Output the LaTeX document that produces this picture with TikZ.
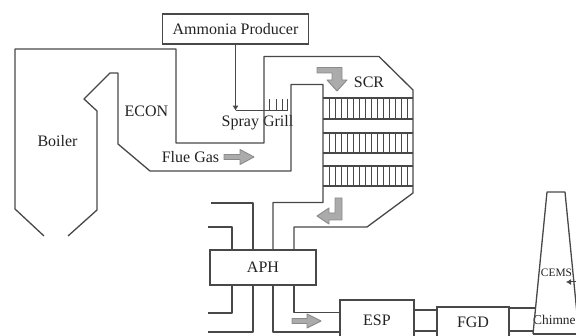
\documentclass[tikz,border=0pt]{standalone}
\usepackage{fontspec}
\setmainfont{Liberation Serif}
\usepackage{xcolor}
\usetikzlibrary{arrows.meta, positioning}
\definecolor{DuctGrey}{HTML}{484848}
\definecolor{FlowGrey}{HTML}{ABABAB}
\definecolor{FlowEdge}{HTML}{8A8A8A}
\definecolor{TextGrey}{HTML}{222222}
\tikzset{
  duct/.style={draw=DuctGrey, line width=1.3pt, line join=round},
  unitbox/.style={draw=DuctGrey, line width=1.3pt, outer sep=0pt, inner sep=0pt, text=TextGrey, font=\fontsize{16}{18}\selectfont},
  plainlabel/.style={text=TextGrey, inner sep=0pt, font=\fontsize{16}{18}\selectfont},
  flow/.style={draw=FlowEdge, fill=FlowGrey, line width=0.9pt, line join=round}
}
\begin{document}
\begin{tikzpicture}[x=1pt, y=-1pt]
        \clip (0,0) rectangle (576,336);

        % Units
        \node[unitbox, minimum width=146pt, minimum height=30pt] (ammonia) at (235.5,29) {Ammonia Producer};
        \node[unitbox, minimum width=106pt, minimum height=35pt] (aph) at (263,267.5) {APH};
        \node[unitbox, minimum width=74pt, minimum height=40pt] (esp) at (377,320) {ESP};
        \node[unitbox, minimum width=72pt, minimum height=30pt, right=23pt of esp, yshift=-2pt] (fgd) {FGD};

        % Labels
        \node[plainlabel] (boiler) at (57.5,141) {Boiler};
        \node[plainlabel] (econ) at (146.5,111) {ECON};
        \node[plainlabel] (spray) at (257.5,123) {Spray Grill};
        \node[plainlabel] (flue) at (190.5,157) {Flue Gas};
        \node[plainlabel] (scr) at (369,82) {SCR};
        \node[plainlabel, anchor=west, font=\fontsize{13.4}{15}\selectfont] (chimney) at (533,320) {Chimne};
        \node[plainlabel, font=\fontsize{11.4}{13}\selectfont] (cems) at (556.5,273) {CEMS};

        % Boiler and flue walls
        \draw[duct] (44,236) -- (15,209) -- (15,49) -- (176,49) -- (176,143) -- (264,143) -- (264,56.5)
            -- (379,56.5) -- (413,90) -- (413,193) -- (367,227) -- (294,227) -- (aph.north -| 294,0);
        \draw[duct] (68,236) -- (97,210) -- (97,111) -- (84,99) -- (110,73) -- (118,73) -- (118,144)
            -- (150,171) -- (291,171) -- (291,84.5) -- (323,84.5) -- (323,202.5) -- (273,202.5) -- (aph.north -| 273,0);

        % Catalyst layers
        \foreach \ytop/\ybot in {98/119, 133/153, 166/186} {
            \draw[duct] (323,\ytop) -- (413,\ytop);
            \draw[duct] (323,\ybot) -- (413,\ybot);
            \foreach \k in {1,...,14}
                \draw[duct, line width=1pt] (323+\k*6,\ytop) -- (323+\k*6,\ybot);
        }

        % Ammonia feed and spray grill
        \coordinate (sprayjoint) at (235.5,110.7);
        \draw[duct, -{Latex[length=5pt, width=6pt]}] (ammonia.south) -- (sprayjoint);
        \draw[duct] (sprayjoint) -- (287,110.7);
        \foreach \gx in {269,276,282,287}
            \draw[duct, line width=1pt] (\gx,99) -- (\gx,110.7);

        % Air and gas lines at the APH
        \draw[duct] (211,203) -| (aph.north -| 253,0);
        \draw[duct] (208,227) -| (aph.north -| 232,0);
        \draw[duct] (208,313) -| (aph.south -| 232,0);
        \draw[duct] (208,332) -| (aph.south -| 253,0);
        \draw[duct] (aph.south -| 273,0) |- (esp.west |- 0,332);
        \draw[duct] (aph.south -| 294,0) |- (esp.west |- 0,312.5);

        % Links to FGD and chimney
        \draw[duct] (esp.east |- 0,310) -- (fgd.west |- 0,310);
        \draw[duct] (esp.east |- 0,331) -- (fgd.west |- 0,331);
        \draw[duct] (fgd.east |- 0,308) -- (535.5,308);
        \draw[duct] (fgd.east |- 0,331) -- (533,331);

        % Chimney
        \draw[duct] (533,334) -- (547,192) -- (565,192) -- (579,334);
        \draw[duct] (533,334) -- (576,334);
        \coordinate (cemsfeed) at (576,282);
        \draw[duct, line width=1pt, -{Latex[length=5pt, width=6pt]}] (cemsfeed) -- (566,282);

        % Flow arrows
        \draw[flow] (224,154.5) -- (240,154.5) -- (240,149.5) -- (254,157) -- (240,164.5) -- (240,159.5) -- (224,159.5) -- cycle;
        \draw[flow] (292,318.5) -- (307,318.5) -- (307,314) -- (321,321) -- (307,328) -- (307,323.5) -- (292,323.5) -- cycle;
        \draw[flow] (317,67.5) -- (342,67.5) -- (342,80) -- (347,80) -- (337,91) -- (327,80) -- (332,80) -- (332,73) -- (317,73) -- cycle;
        \draw[flow] (342,198) -- (342,220) -- (329,220) -- (329,224) -- (317,216) -- (329,208) -- (329,213) -- (335,213) -- (335,198) -- cycle;
    \end{tikzpicture}
\end{document}
